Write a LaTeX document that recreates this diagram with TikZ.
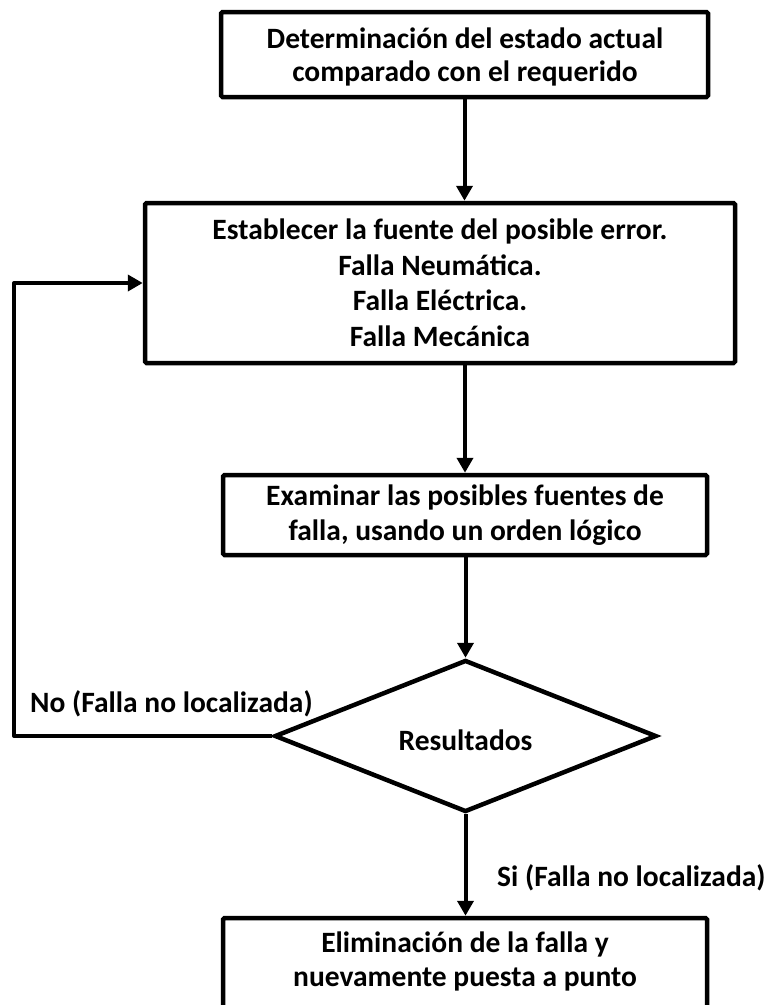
\documentclass[tikz,border=0pt]{standalone}
\usepackage{fontspec}
\setmainfont{Carlito}
\usetikzlibrary{shapes.geometric,arrows.meta}
\tikzset{
  box/.style={draw, line width=4.5pt, rounded corners=1.5pt, rectangle, inner sep=0pt, align=center, font=\fontsize{29.5}{35.5}\selectfont\bfseries},
  txt/.style={inner sep=0pt, align=center, font=\fontsize{29.5}{34}\selectfont\bfseries},
  arr/.style={line width=4pt, -{Triangle[width=16pt,length=15pt]}},
  dia/.style={draw, line width=4.5pt, diamond, inner sep=0pt, minimum width=382pt, minimum height=152pt}
}
\begin{document}
\begin{tikzpicture}[x=1pt,y=1pt]
\useasboundingbox (0,0) rectangle (768,-1005);
\clip (0,0) rectangle (768,-1005);
\node[box, minimum width=487pt, minimum height=85pt] (b1) at (464.5,-54.5) {};
\node[txt, font=\fontsize{29.5}{33}\selectfont\bfseries] (b1t) at (465,-56.5) {Determinación del estado actual\\comparado con el requerido};
\node[box, minimum width=590pt, minimum height=160pt] (b2) at (440,-283) {Establecer la fuente del posible error.\\Falla Neumática.\\Falla Eléctrica.\\Falla Mecánica};
\node[box, minimum width=484pt, minimum height=80pt] (b3) at (465,-515) {Examinar las posibles fuentes de\\falla, usando un orden lógico};
\node[dia] (d) at (465.5,-736) {};
\node[txt] (dt) at (465.5,-740) {Resultados};
\node[box, minimum width=484pt, minimum height=130pt] (b4) at (465,-983) {};
\node[txt] (b4t) at (465,-961) {Eliminación de la falla y\\nuevamente puesta a punto};
\node[txt, anchor=base west] (lno) at (30,-712) {No (Falla no localizada)};
\node[txt, anchor=base west] (lsi) at (497,-886) {Si (Falla no localizada)};
\coordinate (fb) at (14,-736);
\draw[arr] (b1.south) -- (b1.south |- b2.north);
\draw[arr] (b2.south -| b3.north) -- (b3.north);
\draw[arr] (b3.south -| d.north) -- (d.north);
\draw[arr] (d.south) -- (d.south |- b4.north);
\draw[arr, line join=round] (d.west) -- (fb) |- (b2.west);
\end{tikzpicture}
\end{document}
